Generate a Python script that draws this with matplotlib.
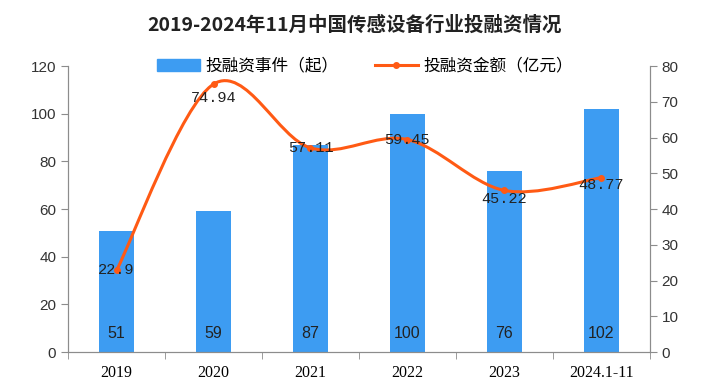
import matplotlib
matplotlib.use('Agg')
from matplotlib import pyplot as plt
from matplotlib.path import Path
from matplotlib.patches import PathPatch
from matplotlib.lines import Line2D
from matplotlib.patches import Patch

plt.rcParams['font.family'] = ['Noto Sans CJK SC', 'DejaVu Sans']

years = ['2019', '2020', '2021', '2022', '2023', '2024.1-11']
events = [51, 59, 87, 100, 76, 102]
amounts = [22.9, 74.94, 57.11, 59.45, 45.22, 48.77]

bar_color = '#3d9cf2'
line_color = '#ff5a14'
grey = '#8c8c8c'


def smooth_path(xs, ys):
    # Catmull-Rom style bezier like spreadsheet smoothed lines
    pts = list(zip(xs, ys))
    verts = [pts[0]]
    codes = [Path.MOVETO]
    n = len(pts)
    for i in range(n - 1):
        p0 = pts[i - 1] if i > 0 else pts[i]
        p1 = pts[i]
        p2 = pts[i + 1]
        p3 = pts[i + 2] if i + 2 < n else pts[i + 1]
        c1 = (p1[0] + (p2[0] - p0[0]) / 6, p1[1] + (p2[1] - p0[1]) / 6)
        c2 = (p2[0] - (p3[0] - p1[0]) / 6, p2[1] - (p3[1] - p1[1]) / 6)
        verts += [c1, c2, p2]
        codes += [Path.CURVE4] * 3
    return Path(verts, codes)


fig = plt.figure(figsize=(7.1, 3.84), dpi=100)
ax = fig.add_axes([0.096, 0.083, 0.819, 0.745])
ax2 = ax.twinx()

x = list(range(len(years)))
ax.bar(x, events, width=0.36, color=bar_color, zorder=2)
for xi, v in zip(x, events):
    ax.text(xi, 8, str(v), ha='center', va='center', fontsize=11.5,
            family=['Liberation Sans Narrow', 'Liberation Sans', 'DejaVu Sans'],
            color='#222222')

ax.set_xlim(-0.5, len(years) - 0.5)
ax.set_ylim(0, 120)
ax.set_yticks(range(0, 121, 20))
ax2.set_ylim(0, 80)
ax2.set_yticks(range(0, 81, 10))

ax.set_xticks(x)
ax.set_xticklabels(years, family=['Liberation Serif', 'DejaVu Serif'], fontsize=11.5)
ax.set_xticks([i - 0.5 for i in range(len(years) + 1)], minor=True)
ax.tick_params(axis='x', which='major', length=0, pad=9)
ax.tick_params(axis='x', which='minor', length=5, color=grey)
ax.tick_params(axis='y', length=5, color=grey, labelsize=11)
ax2.tick_params(axis='y', length=5, color=grey, labelsize=11)
for a in (ax, ax2):
    a.spines['top'].set_visible(False)
    for s in ('left', 'right', 'bottom'):
        a.spines[s].set_color(grey)
    for lab in a.get_yticklabels():
        lab.set_family(['Liberation Sans Narrow', 'Liberation Sans', 'DejaVu Sans'])
        lab.set_color('#333333')

ax2.add_patch(PathPatch(smooth_path(x, amounts), facecolor='none',
                        edgecolor=line_color, lw=2.2, zorder=3))
ax2.plot(x, amounts, 'o', color=line_color, ms=4, zorder=4)
offsets = [0, -4, 0, 0, -2.5, -2]
for xi, v, off in zip(x, amounts, offsets):
    ax2.text(xi, v + off, f'{v:g}', ha='center',
             va='center', fontsize=11,
             family=['Liberation Mono', 'DejaVu Sans Mono'], color='#222222', zorder=5)

handles = [Patch(color=bar_color),
           Line2D([0], [0], color=line_color, lw=2.2, marker='o', ms=4)]
ax.legend(handles, ['投融资事件（起）', '投融资金额（亿元）'], loc='center',
          bbox_to_anchor=(0.51, 1.0), ncol=2, frameon=False, fontsize=12,
          handlelength=2.6, columnspacing=2.2, handletextpad=0.3)

fig.suptitle('2019-2024年11月中国传感设备行业投融资情况', y=0.96,
             fontsize=14, fontweight='bold', color='#222222')

fig.savefig('out.png', dpi=100)
